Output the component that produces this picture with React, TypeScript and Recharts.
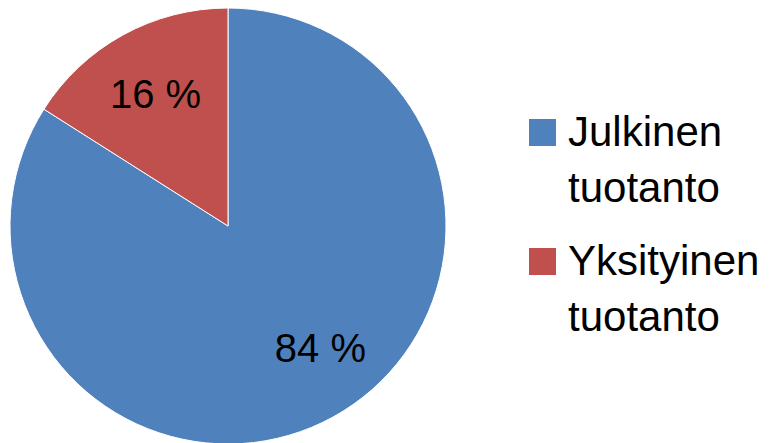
import React from 'react';
import { PieChart, Pie, Cell, Legend } from 'recharts';

const categories = ['Julkinen tuotanto', 'Yksityinen tuotanto'];
const legendLines = [['Julkinen', 'tuotanto'], ['Yksityinen', 'tuotanto']];
const shares = [84, 16];
const colors = ['#4F81BD', '#C0504D'];
// small nudges so labels sit where the original put them
const labelNudge = [{ dx: 20, dy: -10 }, { dx: 0, dy: 0 }];

const data = categories.map((name, i) => ({ name, value: shares[i] }));

const RAD = Math.PI / 180;

const renderLabel = (props: any) => {
  const { cx, cy, midAngle, outerRadius, index, value } = props;
  const r = outerRadius * 0.69;
  const x = cx + r * Math.cos(-midAngle * RAD) + labelNudge[index].dx;
  const y = cy + r * Math.sin(-midAngle * RAD) + labelNudge[index].dy;
  return (
    <text
      x={x}
      y={y}
      textAnchor="middle"
      dominantBaseline="central"
      fill="#000"
      fontSize={40}
      fontFamily="'Liberation Sans', Arial, sans-serif"
    >
      {value} %
    </text>
  );
};

const renderLegend = () => (
  <div style={{ fontFamily: "'Liberation Sans', Arial, sans-serif", fontSize: 42, lineHeight: '56px', color: '#000' }}>
    {legendLines.map((lines, i) => (
      <div key={i} style={{ display: 'flex', marginTop: i === 0 ? 0 : 17 }}>
        <div style={{ width: 27, height: 27, marginTop: 15, background: colors[i], flexShrink: 0 }} />
        <div style={{ marginLeft: 12 }}>
          {lines.map((l, j) => (
            <div key={j}>{l}</div>
          ))}
        </div>
      </div>
    ))}
  </div>
);

export default function App() {
  document.body.style.margin = '0';
  return (
    <div style={{ width: 769, height: 443, background: '#fff' }}>
      <PieChart width={769} height={443} margin={{ top: 0, right: 0, bottom: 0, left: 0 }}>
        <Pie
          data={data}
          dataKey="value"
          nameKey="name"
          cx={228}
          cy={226}
          outerRadius={218}
          startAngle={90}
          endAngle={-270}
          stroke="#fff"
          strokeWidth={1}
          label={renderLabel}
          labelLine={false}
          isAnimationActive={false}
        >
          {data.map((d, i) => (
            <Cell key={d.name} fill={colors[i]} />
          ))}
        </Pie>
        <Legend
          content={renderLegend}
          layout="vertical"
          verticalAlign="top"
          align="right"
          wrapperStyle={{ left: 529, top: 104, width: 240 }}
        />
      </PieChart>
    </div>
  );
}
